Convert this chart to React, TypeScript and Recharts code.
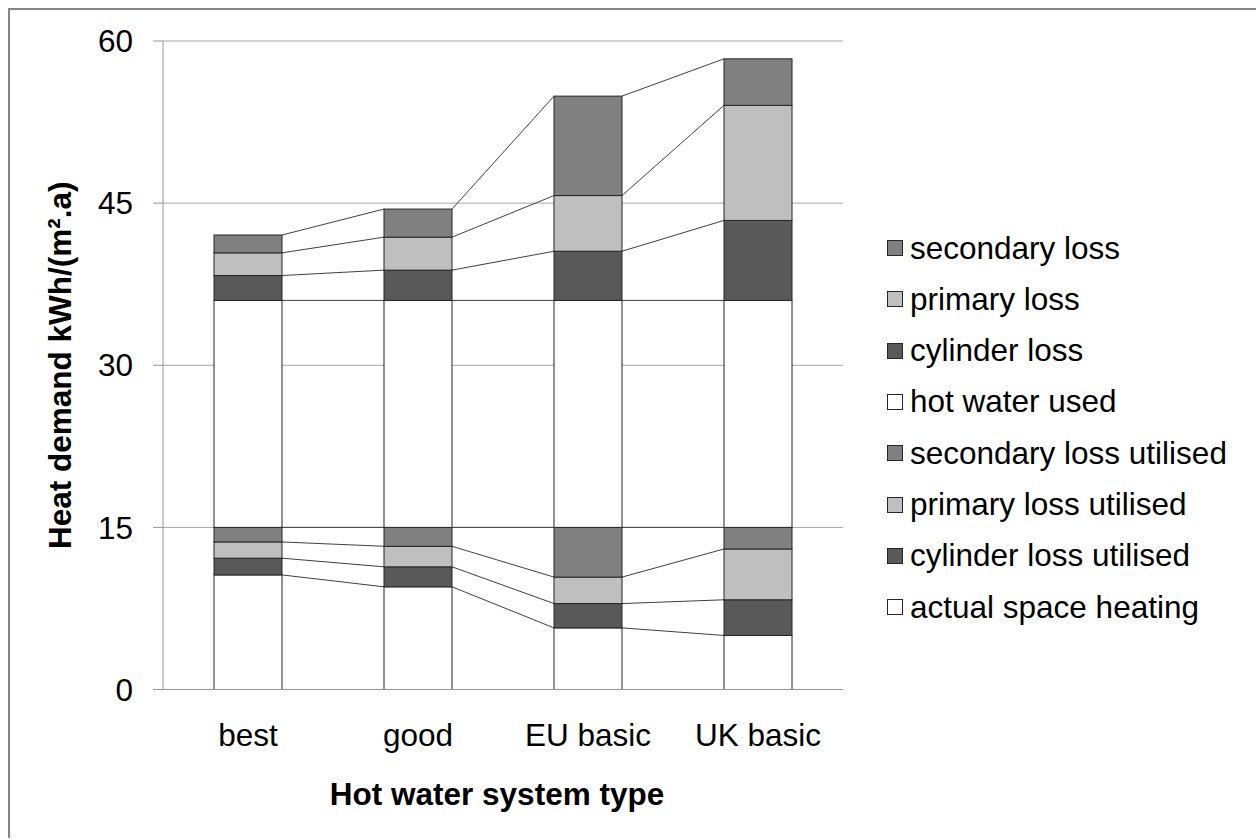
import { Bar, BarChart, CartesianGrid, Label, XAxis, YAxis } from 'recharts'

const categories = ['best', 'good', 'EU basic', 'UK basic']

// stacked bottom to top, kWh/(m².a)
const actualSpaceHeating = [10.6, 9.5, 5.7, 5.0]
const cylinderLossUtilised = [1.55, 1.85, 2.25, 3.3]
const primaryLossUtilised = [1.5, 1.9, 2.45, 4.7]
const secondaryLossUtilised = [1.35, 1.75, 4.6, 2.0]
const hotWaterUsed = [21, 21, 21, 21]
const cylinderLoss = [2.3, 2.8, 4.55, 7.4]
const primaryLoss = [2.1, 3.05, 5.15, 10.65]
const secondaryLoss = [1.65, 2.6, 9.2, 4.3]

const yTicks = [0, 15, 30, 45, 60]

const FONT = '"Liberation Sans", Arial, sans-serif'
const FONT_SIZE = 31.5
const DARK = '#595959'
const LIGHT = '#bfbfbf'
const MID = '#808080'

const series = [
  { key: 'actualSpaceHeating', name: 'actual space heating', values: actualSpaceHeating, fill: '#ffffff' },
  { key: 'cylinderLossUtilised', name: 'cylinder loss utilised', values: cylinderLossUtilised, fill: DARK },
  { key: 'primaryLossUtilised', name: 'primary loss utilised', values: primaryLossUtilised, fill: LIGHT },
  { key: 'secondaryLossUtilised', name: 'secondary loss utilised', values: secondaryLossUtilised, fill: MID },
  { key: 'hotWaterUsed', name: 'hot water used', values: hotWaterUsed, fill: '#ffffff' },
  { key: 'cylinderLoss', name: 'cylinder loss', values: cylinderLoss, fill: DARK },
  { key: 'primaryLoss', name: 'primary loss', values: primaryLoss, fill: LIGHT },
  { key: 'secondaryLoss', name: 'secondary loss', values: secondaryLoss, fill: MID },
]

const data = categories.map((category, i) => {
  const row: Record<string, string | number> = { category }
  series.forEach((s) => {
    row[s.key] = s.values[i]
  })
  return row
})

// Top edge of each rendered segment, per series. Bars render in index order,
// so segment i can draw the Excel-style series line back to segment i-1.
const segmentTops: Record<string, Array<{ x: number; y: number; width: number }>> = {}

function Segment(props: any) {
  const { x, y, width, height, fill, index, seriesKey } = props
  const tops = (segmentTops[seriesKey] ??= [])
  tops[index] = { x, y, width }
  const prev = index > 0 ? tops[index - 1] : undefined
  return (
    <g>
      <rect x={x} y={y} width={width} height={height} fill={fill} stroke="#262626" strokeWidth={1} />
      {prev && (
        <line x1={prev.x + prev.width} y1={prev.y} x2={x} y2={y} stroke="#404040" strokeWidth={1} />
      )}
    </g>
  )
}

function YTitle({ viewBox }: any) {
  const cx = viewBox.x + 50
  const cy = viewBox.y + viewBox.height / 2
  return (
    <text
      x={cx}
      y={cy}
      transform={`rotate(-90 ${cx} ${cy})`}
      textAnchor="middle"
      dominantBaseline="central"
      fontFamily={FONT}
      fontSize={FONT_SIZE}
      fontWeight="bold"
      fill="#000"
    >
      Heat demand kWh/(m².a)
    </text>
  )
}

function XTitle({ viewBox }: any) {
  return (
    <text
      x={viewBox.x + viewBox.width / 2 - 6}
      y={viewBox.y + 115.5}
      textAnchor="middle"
      fontFamily={FONT}
      fontSize={FONT_SIZE}
      fontWeight="bold"
      fill="#000"
    >
      Hot water system type
    </text>
  )
}

function LegendList() {
  return (
    <div style={{ position: 'absolute', left: 877, top: 212.4, fontFamily: FONT, fontSize: FONT_SIZE, color: '#000' }}>
      {[...series].reverse().map((s) => (
        <div key={s.key} style={{ height: 51.3, display: 'flex', alignItems: 'center', whiteSpace: 'nowrap' }}>
          <span
            style={{
              display: 'inline-block',
              width: 14,
              height: 14,
              border: '1px solid #262626',
              background: s.fill,
              marginRight: 7,
            }}
          />
          <span>{s.name}</span>
        </div>
      ))}
    </div>
  )
}

export default function App() {
  return (
    <div
      style={{
        position: 'absolute',
        left: 8,
        top: 8,
        width: 1246,
        height: 828,
        borderTop: '2px solid #858585',
        borderLeft: '2px solid #858585',
        background: '#fff',
      }}
    >
      <div style={{ position: 'relative', width: 1246, height: 826 }}>
        <BarChart
          width={1246}
          height={826}
          data={data}
          margin={{ top: 31, right: 413, bottom: 86.5, left: 0 }}
          barCategoryGap="30%"
        >
          <CartesianGrid vertical={false} stroke="#a6a6a6" />
          <XAxis
            dataKey="category"
            height={60}
            axisLine={{ stroke: '#969696' }}
            tickLine={false}
            tickSize={0}
            tickMargin={34}
            tick={{ fontFamily: FONT, fontSize: FONT_SIZE, fill: '#000' }}
          >
            <Label content={XTitle} />
          </XAxis>
          <YAxis
            width={153}
            domain={[0, 60]}
            ticks={yTicks}
            interval={0}
            axisLine={{ stroke: '#969696' }}
            tickLine={{ stroke: '#969696' }}
            tickSize={10}
            tickMargin={20}
            tick={{ fontFamily: FONT, fontSize: FONT_SIZE, fill: '#000' }}
          >
            <Label content={YTitle} />
          </YAxis>
          {series.map((s) => (
            <Bar
              key={s.key}
              dataKey={s.key}
              name={s.name}
              stackId="demand"
              fill={s.fill}
              isAnimationActive={false}
              shape={(p: any) => <Segment {...p} seriesKey={s.key} />}
            />
          ))}
        </BarChart>
        <LegendList />
      </div>
    </div>
  )
}
